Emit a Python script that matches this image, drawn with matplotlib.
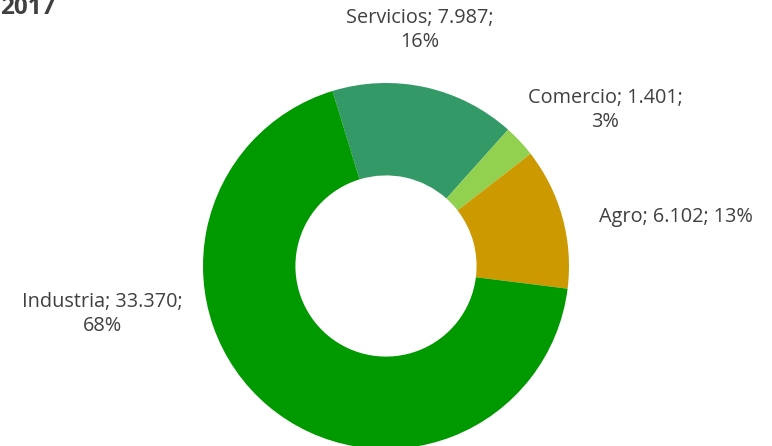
import numpy as np
import matplotlib.pyplot as plt

# sector data, 2017
sectors = ["Servicios", "Comercio", "Agro", "Industria"]
values = [7987, 1401, 6102, 33370]
percents = [16, 3, 13, 68]
colors = ["#339966", "#92D050", "#CC9900", "#009900"]

fig = plt.figure(figsize=(7.72, 4.46), dpi=100)
ax = fig.add_axes([0, 0, 1, 1])

cx, cy, r = 386, 180, 183
wedges, _ = ax.pie(values, colors=colors, startangle=107, counterclock=False,
                   center=(cx, cy), radius=r, frame=True,
                   wedgeprops=dict(width=r * 0.505, linewidth=0))
ax.set_xlim(0, 772)
ax.set_ylim(0, 446)
ax.set_aspect("equal")
ax.axis("off")

font = ["Open Sans", "DejaVu Sans"]
tc = "#404040"

def fmt(v):
    return f"{v:,}".replace(",", ".")

labels = [f"{s}; {fmt(v)};\n{p}%" for s, v, p in zip(sectors, values, percents)]
labels[2] = f"{sectors[2]}; {fmt(values[2])}; {percents[2]}%"

label_pos = [(420, 416), (605, 336), (676, 229), (102, 132)]
for txt, (x, y) in zip(labels, label_pos):
    ax.text(x, y, txt, ha="center", va="center", fontsize=14.3, color=tc,
            family=font, linespacing=1.32)

fig.text(0.0, 432 / 446, "2017", ha="left", va="baseline", fontsize=17.5,
         fontweight="bold", color=tc, family=font)

fig.savefig("out.png", dpi=100)
